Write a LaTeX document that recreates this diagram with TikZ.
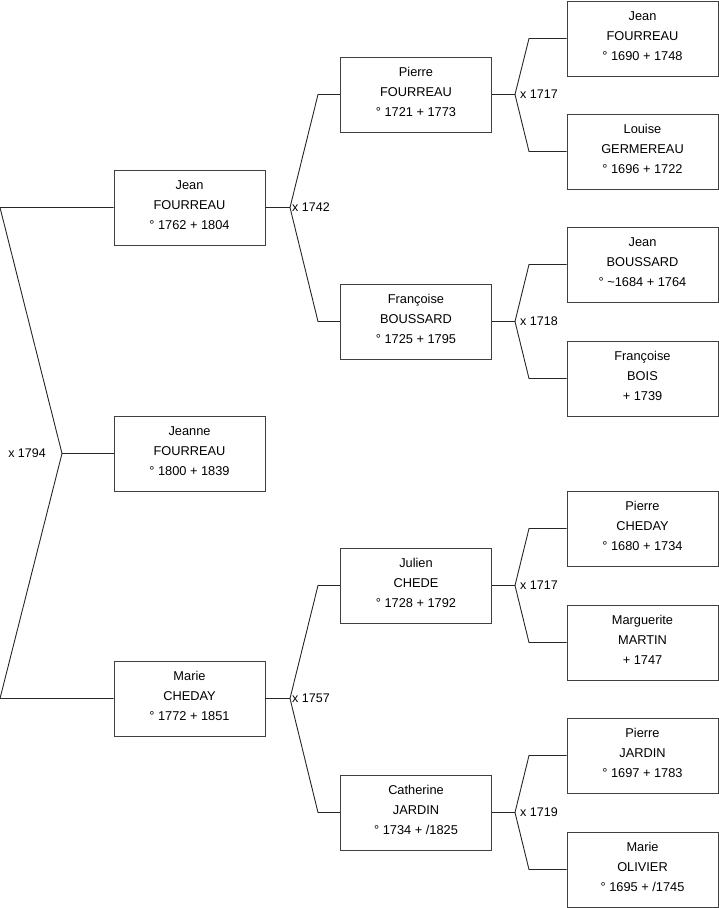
\documentclass[tikz,border=0pt]{standalone}
\usepackage{fontspec}
\setmainfont{Liberation Sans}
\begin{document}
\begin{tikzpicture}[x=1pt,y=-1pt,
  person/.style={draw=black!75, line width=0.9pt, minimum width=151pt, minimum height=75pt, inner sep=0pt,
    align=center, text depth=4.5pt, font=\fontsize{12.8}{20}\selectfont},
  link/.style={draw=black!85, line width=0.9pt},
  mar/.style={font=\fontsize{12.5}{14}\selectfont, inner sep=0pt}]
\useasboundingbox (0,0) rectangle (719,908);
% column 1
\node[person] (jean1) at (189.5,207.5) {Jean\\FOURREAU\\° 1762 + 1804};
\node[person] (jeanne) at (189.5,453.5) {Jeanne\\FOURREAU\\° 1800 + 1839};
\node[person] (marie1) at (189.5,698.5) {Marie\\CHEDAY\\° 1772 + 1851};
% column 2
\node[person] (pierre2) at (416,94.5) {Pierre\\FOURREAU\\° 1721 + 1773};
\node[person] (francoise2) at (416,321.5) {Françoise\\BOUSSARD\\° 1725 + 1795};
\node[person] (julien2) at (416,585.5) {Julien\\CHEDE\\° 1728 + 1792};
\node[person] (catherine2) at (416,812.5) {Catherine\\JARDIN\\° 1734 + /1825};
% column 3
\node[person] (jean3) at (642.5,38.5) {Jean\\FOURREAU\\° 1690 + 1748};
\node[person] (louise3) at (642.5,151.5) {Louise\\GERMEREAU\\° 1696 + 1722};
\node[person] (jeanb3) at (642.5,264.5) {Jean\\BOUSSARD\\° \textasciitilde1684 + 1764};
\node[person] (francoise3) at (642.5,378.5) {Françoise\\BOIS\\+ 1739};
\node[person] (pierre3) at (642.5,528.5) {Pierre\\CHEDAY\\° 1680 + 1734};
\node[person] (marguerite3) at (642.5,642.5) {Marguerite\\MARTIN\\+ 1747};
\node[person] (pierrej3) at (642.5,755.5) {Pierre\\JARDIN\\° 1697 + 1783};
\node[person] (marie3) at (642.5,869.5) {Marie\\OLIVIER\\° 1695 + /1745};
% junction coordinates
\coordinate (ja) at (0,207.5);
\coordinate (jb) at (0,698.5);
\coordinate (j0) at (62,453.5);
\coordinate (j1) at (290,207.5);
\coordinate (j1a) at (318,94.5);
\coordinate (j1b) at (318,321.5);
\coordinate (j2) at (290,698.5);
\coordinate (j2a) at (318,585.5);
\coordinate (j2b) at (318,812.5);
\coordinate (k1) at (515,94.5);
\coordinate (k1a) at (529,38.5);
\coordinate (k1b) at (529,151.5);
\coordinate (k2) at (515,321.5);
\coordinate (k2a) at (529,264.5);
\coordinate (k2b) at (529,378.5);
\coordinate (k3) at (515,585.5);
\coordinate (k3a) at (529,528.5);
\coordinate (k3b) at (529,642.5);
\coordinate (k4) at (515,812.5);
\coordinate (k4a) at (529,755.5);
\coordinate (k4b) at (529,869.5);
% connectors
\draw[link] (jean1.west) -- (ja) -- (j0) -- (jb) -- (marie1.west);
\draw[link] (j0) -- (jeanne.west);
\node[mar, anchor=east] (m0) at (46,453.5) {x 1794};
\draw[link] (jean1.east) -- (j1);
\draw[link] (pierre2.west) -- (j1a) -- (j1) -- (j1b) -- (francoise2.west);
\node[mar, anchor=west] (m1) at (292,207.5) {x 1742};
\draw[link] (marie1.east) -- (j2);
\draw[link] (julien2.west) -- (j2a) -- (j2) -- (j2b) -- (catherine2.west);
\node[mar, anchor=west] (m2) at (292,698.5) {x 1757};
\draw[link] (pierre2.east) -- (k1);
\draw[link] (jean3.west) -- (k1a) -- (k1) -- (k1b) -- (louise3.west);
\node[mar, anchor=west] (m3) at (520,94.5) {x 1717};
\draw[link] (francoise2.east) -- (k2);
\draw[link] (jeanb3.west) -- (k2a) -- (k2) -- (k2b) -- (francoise3.west);
\node[mar, anchor=west] (m4) at (520,321.5) {x 1718};
\draw[link] (julien2.east) -- (k3);
\draw[link] (pierre3.west) -- (k3a) -- (k3) -- (k3b) -- (marguerite3.west);
\node[mar, anchor=west] (m5) at (520,585.5) {x 1717};
\draw[link] (catherine2.east) -- (k4);
\draw[link] (pierrej3.west) -- (k4a) -- (k4) -- (k4b) -- (marie3.west);
\node[mar, anchor=west] (m6) at (520,812.5) {x 1719};
\end{tikzpicture}
\end{document}
